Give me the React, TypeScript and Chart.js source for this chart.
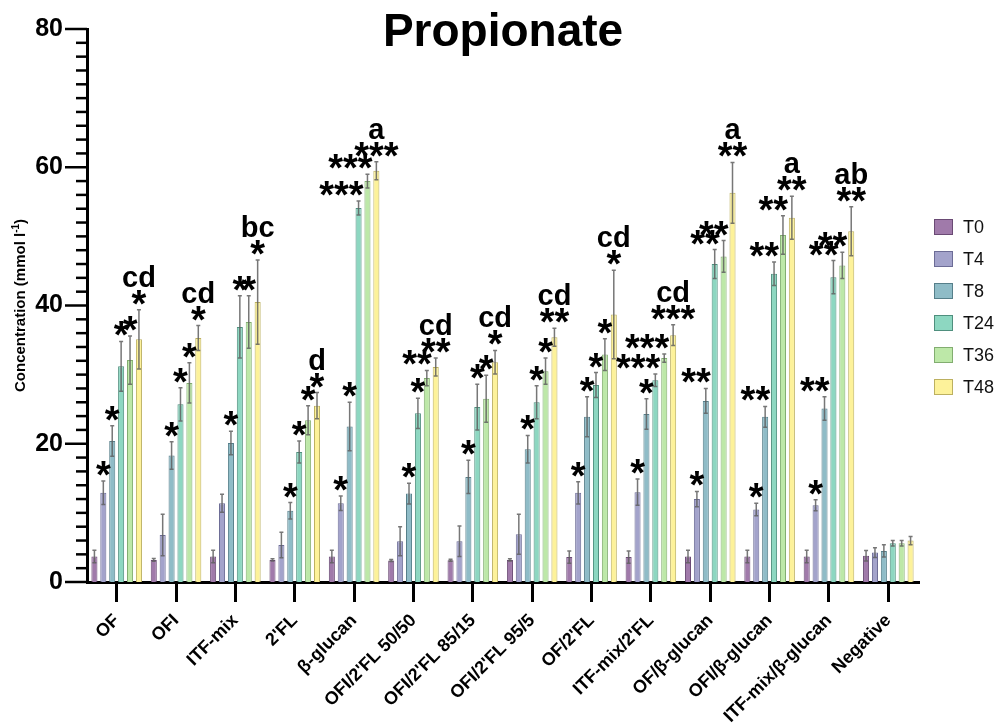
import React, { useEffect, useRef } from "react";
import { Chart, registerables } from "chart.js";

Chart.register(...registerables);

const FONT = "'Liberation Sans', Arial, Helvetica, sans-serif";

const title = "Propionate";
const yAxisTitle = "Concentration (mmol l";
const yAxisSup = "-1";
const categories = [
  "OF", "OFI", "ITF-mix", "2'FL", "β-glucan", "OFI/2'FL 50/50", "OFI/2'FL 85/15",
  "OFI/2'FL 95/5", "OF/2'FL", "ITF-mix/2'FL", "OF/β-glucan", "OFI/β-glucan",
  "ITF-mix/β-glucan", "Negative",
];
const seriesNames = ["T0", "T4", "T8", "T24", "T36", "T48"];
const yTickValues = [0, 20, 40, 60, 80];

const T0 = [3.7, 3.2, 3.7, 3.2, 3.7, 3.1, 3.15, 3.2, 3.6, 3.6, 3.7, 3.7, 3.7, 3.8];
const T0err = [0.9, 0.2, 0.9, 0.15, 0.9, 0.15, 0.15, 0.15, 0.9, 0.9, 0.9, 0.9, 0.9, 0.75];
const T4 = [12.9, 6.8, 11.4, 5.35, 11.4, 5.9, 5.9, 6.9, 12.9, 13.0, 12.0, 10.5, 11.1, 4.25];
const T4err = [1.7, 3.0, 1.3, 1.85, 1.05, 2.1, 2.2, 2.9, 1.6, 1.9, 1.1, 0.9, 0.8, 0.7];
const T8 = [20.4, 18.3, 20.1, 10.3, 22.5, 12.8, 15.2, 19.2, 23.9, 24.3, 26.2, 23.9, 25.1, 4.5];
const T8err = [2.2, 2.0, 1.7, 1.2, 3.5, 1.5, 2.4, 2.0, 2.9, 2.2, 1.8, 1.5, 1.7, 0.9];
const T24 = [31.2, 25.7, 36.9, 18.8, 54.1, 24.4, 25.3, 26.0, 28.5, 29.2, 46.0, 44.6, 44.1, 5.6];
const T24err = [3.6, 2.4, 4.5, 1.6, 1.0, 2.2, 3.3, 2.4, 1.8, 0.9, 2.1, 1.7, 2.4, 0.4];
const T36 = [32.1, 28.8, 37.6, 23.4, 58.0, 29.5, 26.5, 30.5, 32.9, 32.4, 47.1, 50.2, 45.8, 5.6];
const T36err = [3.5, 2.9, 3.8, 2.1, 1.0, 1.1, 3.4, 1.9, 2.3, 0.6, 2.3, 2.8, 1.9, 0.4];
const T48 = [35.1, 35.3, 40.5, 25.5, 59.5, 31.1, 31.8, 35.4, 38.7, 35.7, 56.3, 52.7, 50.75, 6.0];
const T48err = [4.3, 1.8, 6.1, 1.9, 1.3, 1.3, 1.7, 1.3, 6.4, 1.5, 4.4, 3.1, 3.55, 0.6];

// significance stars per category, one entry per series (T0..T48)
const stars = [
  ["", "*", "*", "*", "*", "*"],
  ["", "", "*", "*", "*", "*"],
  ["", "", "*", "*", "*", "*"],
  ["", "", "*", "*", "*", "*"],
  ["", "*", "*", "***", "***", "***"],
  ["", "", "*", "*", "**", "**"],
  ["", "", "*", "*", "*", "*"],
  ["", "", "*", "*", "*", "**"],
  ["", "*", "*", "*", "*", "*"],
  ["", "*", "*", "***", "***", "***"],
  ["", "*", "**", "**", "**", "**"],
  ["", "*", "**", "**", "**", "**"],
  ["", "*", "**", "**", "**", "**"],
  ["", "", "", "", "", ""],
];
const groupLetters = ["cd", "cd", "bc", "d", "a", "cd", "cd", "cd", "cd", "cd", "a", "a", "ab", ""];

const fills = ["#a07aaa", "#a3a3cb", "#8fbcc7", "#8dd7c1", "#bde8a8", "#fdf29a"];
const borders = ["#6a4a74", "#6c6c96", "#567f8a", "#4f8f7e", "#82ad70", "#bcb060"];

const values = [T0, T4, T8, T24, T36, T48];
const errors = [T0err, T4err, T8err, T24err, T36err, T48err];

const overlay = {
  id: "overlay",
  afterDraw(chart: any) {
    const ctx = chart.ctx as CanvasRenderingContext2D;
    const ys = chart.scales.y;
    const area = chart.chartArea;
    ctx.save();

    // y ticks (major + minor)
    ctx.strokeStyle = "#000";
    ctx.lineWidth = 2.5;
    for (let v = 0; v <= 80; v += 2) {
      const py = ys.getPixelForValue(v);
      const major = yTickValues.includes(v);
      const len = major ? 22 : 11;
      ctx.beginPath();
      ctx.moveTo(area.left, py);
      ctx.lineTo(area.left - len, py);
      ctx.stroke();
    }

    // error bars
    const tops: number[][] = [];
    for (let s = 0; s < values.length; s++) {
      const meta = chart.getDatasetMeta(s);
      tops.push([]);
      meta.data.forEach((bar: any, i: number) => {
        const v = values[s][i];
        const e = errors[s][i];
        const yt = ys.getPixelForValue(v + e);
        const yb = ys.getPixelForValue(Math.max(0, v - e));
        tops[s].push(yt);
        ctx.strokeStyle = "rgba(95,95,95,0.85)";
        ctx.lineWidth = 1.5;
        ctx.beginPath();
        ctx.moveTo(bar.x, yt);
        ctx.lineTo(bar.x, yb);
        ctx.moveTo(bar.x - 2, yt);
        ctx.lineTo(bar.x + 2, yt);
        ctx.moveTo(bar.x - 2, yb);
        ctx.lineTo(bar.x + 2, yb);
        ctx.stroke();
      });
    }

    // stars
    ctx.fillStyle = "#000";
    ctx.font = `bold 38px ${FONT}`;
    ctx.textBaseline = "alphabetic";
    const m = ctx.measureText("*");
    const starLift = -m.actualBoundingBoxDescent; // glyph bottom above baseline
    const starH = m.actualBoundingBoxAscent + m.actualBoundingBoxDescent;
    for (let i = 0; i < categories.length; i++) {
      for (let s = 0; s < seriesNames.length; s++) {
        const txt = stars[i][s];
        if (!txt) continue;
        const bar: any = chart.getDatasetMeta(s).data[i];
        const glyphBottom = tops[s][i] - 5;
        const baseY = glyphBottom + starLift;
        if (txt.length > 1 && s < seriesNames.length - 1) {
          ctx.textAlign = "right";
          ctx.fillText(txt, bar.x + bar.width / 2 + 2, baseY);
        } else {
          ctx.textAlign = "center";
          ctx.fillText(txt, bar.x, baseY);
        }
      }
    }

    // letters above last series
    ctx.font = `bold 29px ${FONT}`;
    ctx.textAlign = "center";
    for (let i = 0; i < categories.length; i++) {
      const L = groupLetters[i];
      if (!L) continue;
      const s = seriesNames.length - 1;
      const bar: any = chart.getDatasetMeta(s).data[i];
      const starTop = tops[s][i] - 5 - starH;
      ctx.fillText(L, bar.x, starTop - 3);
    }

    // title
    ctx.font = `bold 46px ${FONT}`;
    ctx.textAlign = "center";
    ctx.fillText(title, 503, 46);

    // y axis title with superscript
    ctx.save();
    ctx.translate(21, (area.top + area.bottom) / 2);
    ctx.rotate(-Math.PI / 2);
    ctx.textAlign = "left";
    ctx.textBaseline = "middle";
    const f1 = `bold 15px ${FONT}`;
    const f2 = `bold 10px ${FONT}`;
    ctx.font = f1;
    const w1 = ctx.measureText(yAxisTitle).width;
    const w3 = ctx.measureText(")").width;
    ctx.font = f2;
    const w2 = ctx.measureText(yAxisSup).width;
    let x0 = -(w1 + w2 + w3) / 2;
    ctx.font = f1;
    ctx.fillText(yAxisTitle, x0, 0);
    ctx.font = f2;
    ctx.fillText(yAxisSup, x0 + w1, -5);
    ctx.font = f1;
    ctx.fillText(")", x0 + w1 + w2, 0);
    ctx.restore();

    // legend
    ctx.textAlign = "left";
    ctx.textBaseline = "middle";
    ctx.font = `18px ${FONT}`;
    for (let s = 0; s < seriesNames.length; s++) {
      const cy = 227 + s * 32;
      ctx.fillStyle = fills[s];
      ctx.fillRect(934, cy - 8, 19, 16);
      ctx.strokeStyle = borders[s];
      ctx.lineWidth = 1;
      ctx.strokeRect(934.5, cy - 7.5, 18, 15);
      ctx.fillStyle = "#111";
      ctx.fillText(seriesNames[s], 963, cy + 1);
    }
    ctx.restore();
  },
};

export default function App() {
  const ref = useRef<HTMLCanvasElement | null>(null);
  useEffect(() => {
    if (!ref.current) return;
    const chart = new Chart(ref.current, {
      type: "bar",
      data: {
        labels: categories,
        datasets: seriesNames.map((n, s) => ({
          label: n,
          data: values[s],
          backgroundColor: fills[s],
          borderColor: borders[s],
          borderWidth: 1,
          categoryPercentage: 0.9,
          barPercentage: 0.68,
        })),
      },
      options: {
        animation: false,
        responsive: false,
        events: [],
        layout: { padding: { top: 29, right: 90, left: 0, bottom: 0 } },
        plugins: { legend: { display: false }, tooltip: { enabled: false }, title: { display: false } },
        scales: {
          x: {
            offset: true,
            grid: {
              display: true,
              drawOnChartArea: false,
              offset: false,
              tickLength: 20,
              lineWidth: 3,
              tickWidth: 3,
              tickColor: "#000",
              color: "#000",
            },
            border: { display: true, width: 3, color: "#000" },
            ticks: {
              font: { family: FONT, size: 18, weight: "bold" },
              color: "#000",
              maxRotation: 45,
              minRotation: 45,
              padding: 8,
              autoSkip: false,
            },
            afterFit: (s: any) => {
              s.height = 144;
            },
          },
          y: {
            min: 0,
            max: 80,
            ticks: {
              stepSize: 20,
              font: { family: FONT, size: 25, weight: "bold" },
              color: "#000",
              padding: 24,
            },
            grid: { display: false, drawTicks: false },
            border: { display: true, width: 3, color: "#000" },
            afterFit: (s: any) => {
              s.width = 87;
              s.paddingTop = 0;
              s.paddingBottom = 0;
            },
          },
        },
      },
      plugins: [overlay],
    });
    return () => chart.destroy();
  }, []);
  return (
    <div style={{ position: "fixed", left: 0, top: 0, width: 1008, height: 726, background: "#fff" }}>
      <canvas ref={ref} width={1008} height={726} />
    </div>
  );
}
